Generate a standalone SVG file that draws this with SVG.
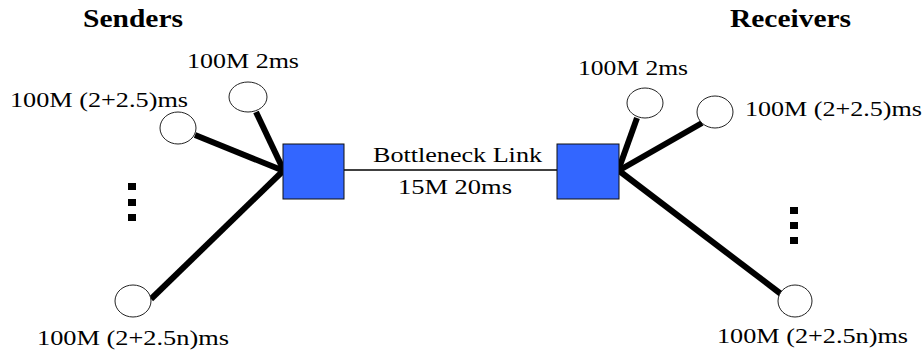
<svg xmlns="http://www.w3.org/2000/svg" width="924" height="351" viewBox="0 0 924 351">
<style>
.t{font-family:"Liberation Serif","Times New Roman",serif;font-size:22px;fill:#000}
.h{font-family:"Liberation Serif","Times New Roman",serif;font-size:25px;font-weight:bold;fill:#000}
.host{fill:#fff;stroke:#222;stroke-width:1}
.router{fill:#3366ff;stroke:#111;stroke-width:1}
.access{stroke:#000;stroke-width:6;stroke-linecap:butt;fill:none}
.bneck{stroke:#000;stroke-width:1.5;fill:none}
.dot{fill:#000}
</style>
<rect width="924" height="351" fill="#fff"/>
<g id="connectors">
<line class="bneck" x1="344" y1="170" x2="557" y2="170"/>
<line class="access" x1="256" y1="112" x2="284" y2="171"/>
<line class="access" x1="195" y1="135" x2="284" y2="171"/>
<line class="access" x1="151" y1="299" x2="284" y2="170"/>
<line class="access" x1="637" y1="118" x2="618" y2="171"/>
<line class="access" x1="702" y1="123" x2="618" y2="171"/>
<line class="access" x1="781" y1="294" x2="618" y2="170"/>
</g>
<g id="labels">
<text class="h" x="83" y="27" textLength="100" lengthAdjust="spacingAndGlyphs">Senders</text>
<text class="h" x="730" y="27" textLength="121" lengthAdjust="spacingAndGlyphs">Receivers</text>
<text class="t" x="373" y="162" textLength="169" lengthAdjust="spacingAndGlyphs">Bottleneck Link</text>
<text class="t" x="398" y="194" textLength="114" lengthAdjust="spacingAndGlyphs">15M 20ms</text>
</g>
<g id="router-left"><rect class="router" x="283" y="144" width="61" height="55"/></g>
<g id="router-right"><rect class="router" x="557" y="144" width="62" height="55"/></g>
<g id="sender-1">
<ellipse class="host" cx="248" cy="97" rx="19" ry="15"/>
<text class="t" x="187" y="68" textLength="112" lengthAdjust="spacingAndGlyphs">100M 2ms</text>
</g>
<g id="sender-2">
<ellipse class="host" cx="178" cy="128" rx="18" ry="16"/>
<text class="t" x="10" y="107" textLength="178" lengthAdjust="spacingAndGlyphs">100M (2+2.5)ms</text>
</g>
<g id="sender-n">
<ellipse class="host" cx="133" cy="301" rx="18" ry="16"/>
<text class="t" x="37" y="345" textLength="192" lengthAdjust="spacingAndGlyphs">100M (2+2.5n)ms</text>
</g>
<g id="sender-dots">
<rect class="dot" x="128" y="183" width="8" height="7"/>
<rect class="dot" x="128" y="199" width="8" height="7"/>
<rect class="dot" x="128" y="214" width="8" height="7"/>
</g>
<g id="receiver-1">
<ellipse class="host" cx="645" cy="103" rx="18" ry="15"/>
<text class="t" x="578" y="75" textLength="110" lengthAdjust="spacingAndGlyphs">100M 2ms</text>
</g>
<g id="receiver-2">
<ellipse class="host" cx="715" cy="112" rx="18" ry="16"/>
<text class="t" x="745" y="116" textLength="177" lengthAdjust="spacingAndGlyphs">100M (2+2.5)ms</text>
</g>
<g id="receiver-n">
<ellipse class="host" cx="795" cy="301" rx="17" ry="16"/>
<text class="t" x="717" y="343" textLength="191" lengthAdjust="spacingAndGlyphs">100M (2+2.5n)ms</text>
</g>
<g id="receiver-dots">
<rect class="dot" x="790" y="207" width="8" height="7"/>
<rect class="dot" x="790" y="222" width="8" height="7"/>
<rect class="dot" x="790" y="237" width="8" height="7"/>
</g>
</svg>
